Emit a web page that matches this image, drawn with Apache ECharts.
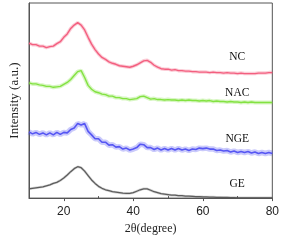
<!DOCTYPE html>
<html>
<head>
<meta charset="utf-8">
<script src="https://cdn.jsdelivr.net/npm/echarts@6/dist/echarts.min.js"></script>
<style>html,body{margin:0;padding:0;background:#fff;}#c{width:282px;height:240px;}</style>
</head>
<body>
<div id="c"></div>
<script>
// 2-theta positions (degrees)
var twoTheta = [10,11,12,13,14,15,16,17,18,19,20,21,22,23,24,25,26,27,28,29,30,31,32,33,34,35,36,37,38,39,40,41,42,43,44,45,46,47,48,49,50,51,52,53,54,55,56,57,58,59,60,61,62,63,64,65,66,67,68,69,70,71,72,73,74,75,76,77,78,79,80];

// intensities (a.u., offset as in the figure)
var NC  = [158,156.5,156.5,155,155,153.5,154.5,155,157.5,159.5,164,167.5,173,176.5,179,176.5,171.5,164,157,151.5,147,143.5,141.5,139,137.5,136.5,135,134.5,134,133.5,134.5,136,138,140,140.5,138.5,135.5,133.5,132,131.5,131.5,130.5,131,130,130,129.5,129.5,129,129,128.5,128.5,128.5,128,128.5,128,128,127.5,128,127.5,127.5,127,127.5,127,127,127,127,127.5,127.5,127.5,128,128];
var NAC = [117.5,116.5,116.5,115.5,115,114,114,113,113.5,114,116,118,121,125,129,130,123,115,111,108.5,107.5,106,105.5,104,104,102.5,102.5,101.5,101.5,100.5,101,101.5,103.5,104,102.5,101,101.5,100.5,100.5,100,100.5,100,100,99.5,100,99.5,100,99.5,99.5,99,99.5,99,99.5,98.5,99,98.5,98.5,98,98.5,98,98,97.5,98,97.5,98,97.5,97.5,97.5,97.5,97.5,97.5];
var NGE = [67.5,65.5,67,65,66.5,64.5,66.5,64.5,67,65,67,66.5,70,71.5,76,74.5,76,68,64.5,60.5,60.5,57,57,54,54.5,52,52.5,50,51,49,50,51.5,55,54.5,51.5,51.5,49.5,51,49,50.5,49,50.5,49,50.5,49,50,48.5,50,49.5,51,50.5,51,50,50,48.5,49,48,48.5,47,48,46.5,47.5,46.5,47.5,46,47,45.5,46.5,45.5,46.5,45.5];
var GE  = [9.5,10,10.5,11,11.5,12.5,13.5,15,16,18,20.5,23.5,27,30,32,31,27.5,23,18.5,15,12,10,8.5,7.5,6.5,6,5.5,5,4.8,4.8,5.5,7,8.5,9.5,9.5,8,6.5,5.5,4.5,4,3.5,3,3,2.5,2.5,2,2,1.8,1.5,1.5,1.3,1.2,1,1,0.8,0.8,0.6,0.6,0.5,0.5,0.3,0.3,0.3,0.3,0.3,0.3,0.3,0.3,0.3,0.3,0.3];

var seriesNames = ['NC','NAC','NGE','GE'];
var seriesColors = ['#f2587a','#7ee03a','#4f4ff2','#555555'];
var labelAt = [[69.9,144],[69.9,107.5],[69.9,60.3],[69.9,14.5]];
var majorTicks = [20,40,60,80];
var minorTicks = [30,50,70];

var allData = [NC, NAC, NGE, GE];
var coreWidth = [1.4, 1.4, 1.6, 1.3];
var haloWidth = [3.5, 4, 5.5, 2.5];
var haloOpacity = [0.3, 0.3, 0.3, 0.25];

var chart = echarts.init(document.getElementById('c'), null, {renderer:'canvas'});
function pairs(ys){ return twoTheta.map(function(x,i){ return [x, ys[i]]; }); }

var series = [];
allData.forEach(function(ys, k){
  series.push({
    name: seriesNames[k]+'-halo', type:'line', data: pairs(ys), showSymbol:false, symbol:'none',
    silent:true, lineStyle:{color:seriesColors[k], width:haloWidth[k], opacity:haloOpacity[k]}
  });
  series.push({
    name: seriesNames[k], type:'line', data: pairs(ys), showSymbol:false, symbol:'none',
    lineStyle:{color:seriesColors[k], width:coreWidth[k], opacity:0.95},
    markPoint:{
      symbol:'circle', symbolSize:0, silent:true,
      label:{show:true, position:'inside', formatter: seriesNames[k], color:'#111',
        fontFamily:'Liberation Serif', fontSize:11.5},
      data:[{coord: labelAt[k]}]
    }
  });
});

chart.setOption({
  animation:false,
  backgroundColor:'#fff',
  textStyle:{fontFamily:'Liberation Sans'},
  grid:{left:22, right:8, top:3, bottom:38, show:true, borderColor:'#555', borderWidth:1, backgroundColor:'transparent'},
  xAxis:[{
    type:'value', min:10, max:80, position:'bottom',
    name:'2θ(degree)', nameLocation:'middle', nameGap:21,
    nameTextStyle:{fontFamily:'Liberation Serif', fontSize:12, color:'#222'},
    axisLine:{show:true, lineStyle:{color:'#555', width:1}},
    axisTick:{show:true, inside:false, length:3, customValues:majorTicks, lineStyle:{color:'#555'}},
    axisLabel:{show:true, customValues:majorTicks, margin:8, fontFamily:'Liberation Sans', fontSize:12, color:'#222'},
    splitLine:{show:false}
  },{
    type:'value', min:10, max:80, position:'bottom',
    axisLine:{show:false},
    axisTick:{show:true, inside:true, length:2, customValues:minorTicks, lineStyle:{color:'#555'}},
    axisLabel:{show:false}, splitLine:{show:false}
  }],
  yAxis:[{
    type:'value', min:0, max:199,
    name:'Intensity (a.u.)', nameLocation:'middle', nameGap:8,
    nameTextStyle:{fontFamily:'Liberation Serif', fontSize:13, color:'#222'},
    axisLine:{show:true, lineStyle:{color:'#555'}},
    axisTick:{show:false}, axisLabel:{show:false}, splitLine:{show:false}
  }],
  series: series
});
</script>
</body>
</html>
